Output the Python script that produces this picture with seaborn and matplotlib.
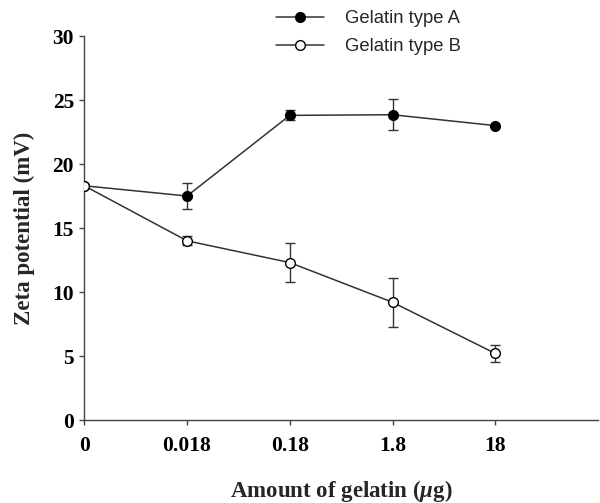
import numpy as np
import pandas as pd
import matplotlib
matplotlib.use('Agg')
import matplotlib.pyplot as plt
import seaborn as sns

# 数据
doses = ['0', '0.018', '0.18', '1.8', '18']
zeta_a = [18.3, 17.5, 23.8, 23.85, 23.0]
err_a = [0.0, 1.05, 0.4, 1.23, 0.0]
zeta_b = [18.3, 14.0, 12.3, 9.2, 5.2]
err_b = [0.0, 0.35, 1.55, 1.9, 0.65]
series_names = ['Gelatin type A', 'Gelatin type B']

sns.set_theme(style='ticks')
plt.rcParams['font.family'] = ['Liberation Serif', 'DejaVu Serif']
plt.rcParams['mathtext.fontset'] = 'custom'
plt.rcParams['mathtext.rm'] = 'Liberation Serif:bold'
plt.rcParams['mathtext.it'] = 'Liberation Serif:italic:bold'
plt.rcParams['mathtext.bf'] = 'Liberation Serif:bold'

xpos = np.arange(len(doses))
df = pd.DataFrame({
    'pos': np.concatenate([xpos, xpos]),
    'zeta': zeta_a + zeta_b,
    'err': err_a + err_b,
    'series': [series_names[0]] * len(doses) + [series_names[1]] * len(doses),
})

fig = plt.figure(figsize=(6.0, 5.03), dpi=100)
ax = fig.add_axes([0.1405, 0.165, 0.8562, 0.7634])

face = {series_names[0]: 'black', series_names[1]: 'white'}
for name in series_names:
    sub = df[df['series'] == name]
    ax.errorbar(sub['pos'], sub['zeta'], yerr=sub['err'], fmt='none',
                ecolor='#333333', elinewidth=1.0, capsize=3.5, capthick=1.0, zorder=2)
    sns.lineplot(data=sub, x='pos', y='zeta', ax=ax, color='#333333', linewidth=1.1,
                 marker='o', markersize=7, markerfacecolor=face[name],
                 markeredgecolor='black', markeredgewidth=1.0, label=name, zorder=3)

ax.set_xlim(0, 5)
ax.set_ylim(0, 30)
ax.set_xticks(xpos)
ax.set_xticklabels(doses)
ax.set_yticks(range(0, 31, 5))
for sp in ['top', 'right']:
    ax.spines[sp].set_visible(False)
for sp in ['left', 'bottom']:
    ax.spines[sp].set_color('#444444')
    ax.spines[sp].set_linewidth(1.0)
    ax.spines[sp].set_clip_on(False)

ax.tick_params(axis='both', direction='out', length=3.5, width=1.0, color='#444444',
               labelsize=15.5, labelcolor='black')
ax.tick_params(axis='x', pad=8)
ax.tick_params(axis='y', pad=4)
for lbl in ax.get_xticklabels() + ax.get_yticklabels():
    lbl.set_fontweight('bold')

ax.set_xlabel(r'Amount of gelatin ($\mu$g)', fontsize=16.5, fontweight='bold')
ax.set_ylabel('Zeta potential (mV)', fontsize=16.5, fontweight='bold')
ax.xaxis.set_label_coords(0.5, -0.15)
ax.yaxis.set_label_coords(-0.095, 0.5)

leg = ax.legend(loc='upper left', bbox_to_anchor=(0.432, 1.013), bbox_transform=fig.transFigure,
                frameon=False, handlelength=2.6, handletextpad=1.13, labelspacing=0.6,
                prop={'family': 'Liberation Sans', 'size': 13.3})

fig.savefig('out.png', dpi=100)
